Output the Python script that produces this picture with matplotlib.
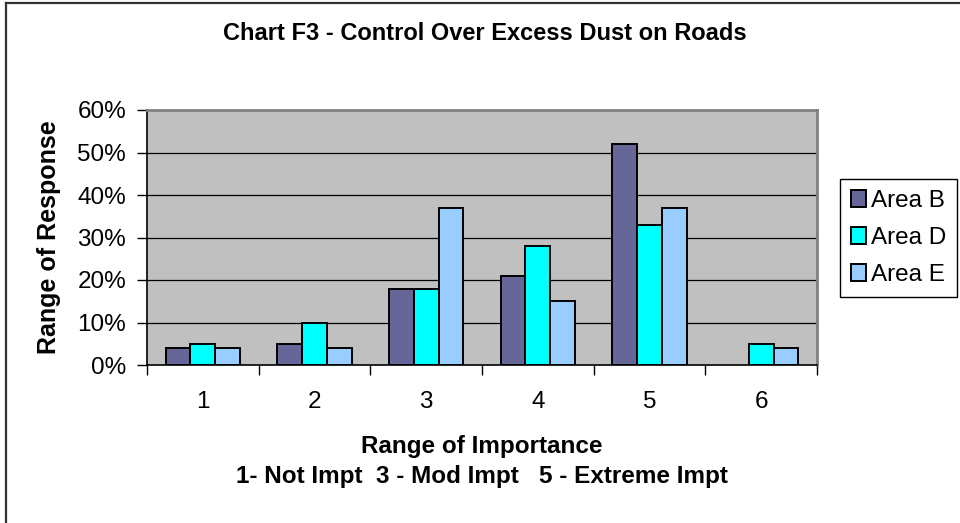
import matplotlib
matplotlib.use('Agg')
import matplotlib.pyplot as plt
import numpy as np
from matplotlib.lines import Line2D

plt.rcParams['font.family'] = ['Liberation Sans', 'DejaVu Sans']

# Data (percent of responses)
categories = ['1', '2', '3', '4', '5', '6']
area_b = [4, 5, 18, 21, 52, 0]
area_d = [5, 10, 18, 28, 33, 5]
area_e = [4, 4, 37, 15, 37, 4]
series_names = ['Area B', 'Area D', 'Area E']
series_colors = ['#666699', '#00FFFF', '#99CCFF']
y_ticks = [0, 10, 20, 30, 40, 50, 60]

fs = 17.5

fig = plt.figure(figsize=(9.6, 5.23), dpi=100)
ax = fig.add_axes([147/960, 1-365/523, 670/960, 255/523])
ax.set_facecolor('#C0C0C0')

x = np.arange(1, len(categories) + 1)
w = 1 / 4.5  # Excel gap width 150%
for i, (vals, name, col) in enumerate(zip([area_b, area_d, area_e], series_names, series_colors)):
    bars = ax.bar(x + (i - 1) * w, vals, width=w, color=col, edgecolor='black',
                  linewidth=1.4, label=name, zorder=3)
    for b in bars:
        if b.get_height() == 0:
            b.set_linewidth(0)

# gridlines
for t in y_ticks[1:-1]:
    ax.axhline(t, color='black', linewidth=0.9, zorder=1)

ax.set_xlim(0.5, 6.5)
ax.set_ylim(0, 60)
ax.set_yticks(y_ticks)
ax.set_yticklabels([f'{t}%' for t in y_ticks], fontsize=fs)
ax.tick_params(axis='y', length=7, width=1, direction='out', pad=8)

# category labels at centres, tick marks on boundaries
ax.set_xticks(np.arange(0.5, 7.0, 1.0))
ax.set_xticklabels([])
ax.tick_params(axis='x', which='major', length=7, width=1, direction='out')
ax.set_xticks(x, minor=True)
ax.set_xticklabels(categories, minor=True, fontsize=fs)
ax.tick_params(axis='x', which='minor', length=0, pad=19)

for s in ['left', 'bottom']:
    ax.spines[s].set_color('black')
    ax.spines[s].set_linewidth(1.2)
for s in ['top', 'right']:
    ax.spines[s].set_color('#808080')
    ax.spines[s].set_linewidth(2)

ax.set_ylabel('Range of Response', fontsize=18, fontweight='bold')
ax.yaxis.set_label_coords(-0.128, 0.5)
ax.set_xlabel('Range of Importance\n1- Not Impt  3 - Mod Impt   5 - Extreme Impt',
              fontsize=fs, fontweight='bold', linespacing=1.4)
ax.xaxis.set_label_coords(0.5, -0.275)

fig.text(485/960, 1-34/523, 'Chart F3 - Control Over Excess Dust on Roads',
         fontsize=17, fontweight='bold', ha='center', va='center')

leg = ax.legend(loc='center', bbox_to_anchor=(839/960, 1-296/523, 119/960, 116/523),
                bbox_transform=fig.transFigure, fontsize=fs, frameon=True,
                fancybox=False, edgecolor='black', framealpha=1,
                handlelength=0.65, handleheight=0.65, handletextpad=0.2,
                labelspacing=0.62, borderpad=0.45, borderaxespad=0)
leg.get_frame().set_linewidth(1)

# outer chart border (top and left visible)
fig.add_artist(Line2D([6/960, 6/960], [0, 1-3/523], transform=fig.transFigure,
                      color='#333333', linewidth=1.6))
fig.add_artist(Line2D([6/960, 1], [1-3/523, 1-3/523], transform=fig.transFigure,
                      color='#333333', linewidth=1.6))

fig.savefig('out.png', dpi=100)
